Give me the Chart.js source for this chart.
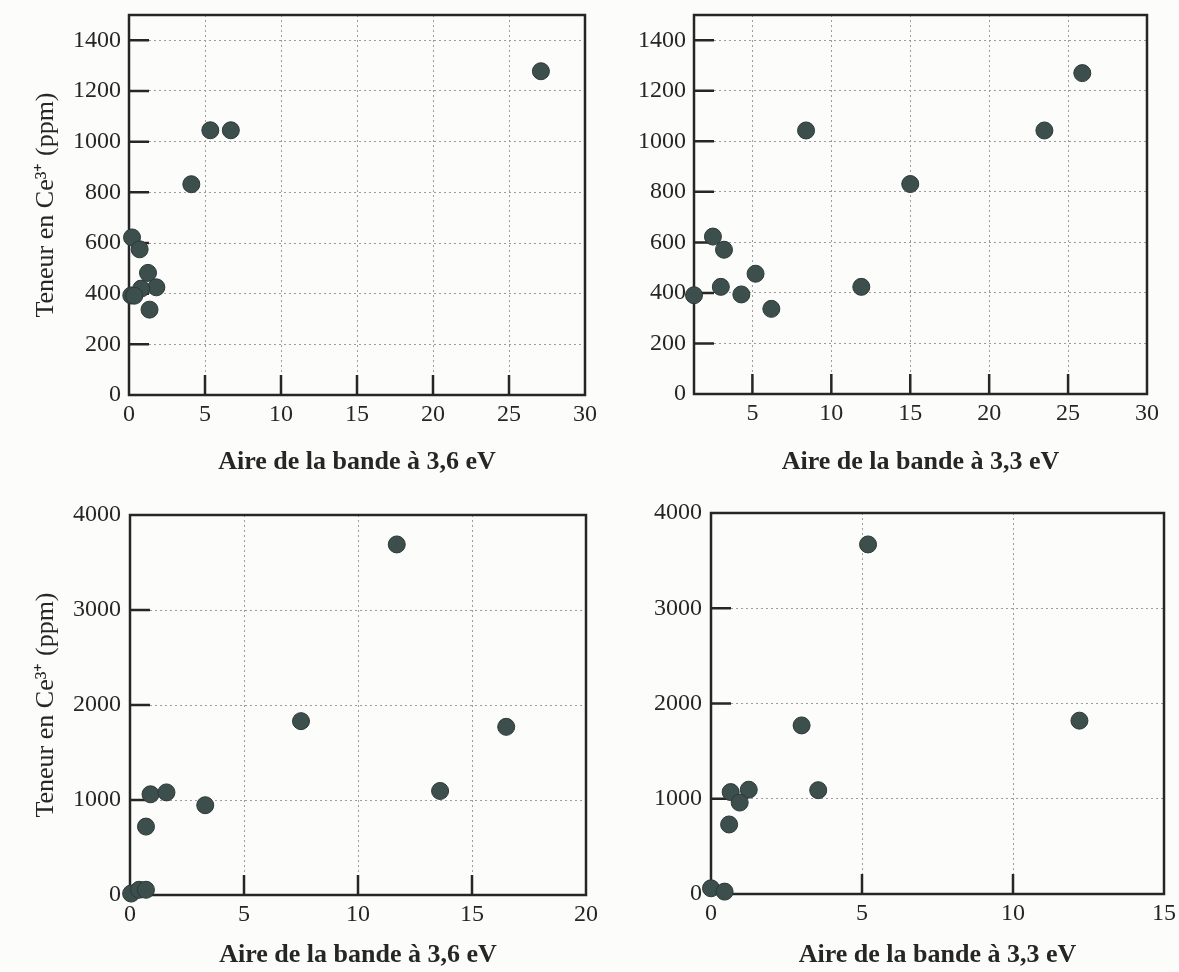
<!DOCTYPE html>
<html lang="fr">
<head>
<meta charset="utf-8">
<title>Teneur en Ce3+ / aire des bandes</title>
<script src="https://cdn.jsdelivr.net/npm/chart.js@4.4.1/dist/chart.umd.min.js"></script>
<style>
    html, body { margin: 0; padding: 0; background: #fcfcfb; }
    #wrap { position: relative; width: 1179px; height: 972px; }
    #wrap canvas { position: absolute; left: 0; top: 0; }
</style>
</head>
<body>
<div id="wrap">
    <canvas id="c1" width="1179" height="972"></canvas>
    <canvas id="c2" width="1179" height="972"></canvas>
    <canvas id="c3" width="1179" height="972"></canvas>
    <canvas id="c4" width="1179" height="972"></canvas>
</div>
<script>
// --- données ---
// haut gauche : aire de la bande à 3,6 eV / teneur en Ce3+ (ppm)
const p1X = [27.1, 5.35, 6.7, 4.1, 0.2, 0.7, 1.25, 1.8, 0.15, 0.8, 1.35, 0.35];
const p1Y = [1278, 1045, 1045, 832, 622, 575, 482, 425, 393, 420, 337, 392];
// haut droite : aire de la bande à 3,3 eV
const p2X = [25.9, 23.5, 8.4, 15.0, 2.5, 3.2, 5.2, 3.0, 1.3, 4.3, 6.2, 11.9];
const p2Y = [1270, 1043, 1043, 831, 623, 571, 476, 424, 391, 394, 337, 424];
// bas gauche : aire de la bande à 3,6 eV
const p3X = [11.7, 7.5, 16.5, 13.6, 3.3, 0.9, 1.6, 0.7, 0.05, 0.4, 0.7];
const p3Y = [3690, 1830, 1770, 1095, 945, 1060, 1080, 720, 15, 55, 55];
// bas droite : aire de la bande à 3,3 eV
const p4X = [5.2, 12.2, 3.0, 3.55, 0.65, 1.25, 0.95, 0.6, 0.0, 0.45];
const p4Y = [3670, 1820, 1770, 1090, 1070, 1095, 960, 730, 60, 25];

// graduations
const p1XTicks = [0, 5, 10, 15, 20, 25, 30];
const p2XTicks = [5, 10, 15, 20, 25, 30];
const p3XTicks = [0, 5, 10, 15, 20];
const p4XTicks = [0, 5, 10, 15];
const topYTicks = [0, 200, 400, 600, 800, 1000, 1200, 1400];
const bottomYTicks = [0, 1000, 2000, 3000, 4000];

const xTitle36 = 'Aire de la bande à 3,6 eV';
const xTitle33 = 'Aire de la bande à 3,3 eV';
const yTitle = 'Teneur en Ce³⁺ (ppm)';

const W = 1179, H = 972;
const INK = '#262626';
const GRID = '#9c9c9c';
const DOT_FILL = '#3d4f4c';
const DOT_EDGE = '#2b3836';
const TICK_LEN = 20;
const SERIF = "'Liberation Serif', 'Times New Roman', serif";

// cadre + graduations vers l'intérieur
const cadrePlugin = {
    id: 'cadre',
    beforeDatasetsDraw(chart) {
        const { ctx, chartArea: a, scales: { x, y } } = chart;
        ctx.save();
        ctx.strokeStyle = INK;
        ctx.lineWidth = 2.5;
        ctx.beginPath();
        x.ticks.forEach(t => {
            const px = x.getPixelForValue(t.value);
            if (px <= a.left + 2 || px >= a.right - 2) return;
            ctx.moveTo(px, a.bottom);
            ctx.lineTo(px, a.bottom - TICK_LEN);
        });
        y.ticks.forEach(t => {
            const py = y.getPixelForValue(t.value);
            if (py <= a.top + 2 || py >= a.bottom - 2) return;
            ctx.moveTo(a.left, py);
            ctx.lineTo(a.left + TICK_LEN, py);
        });
        ctx.stroke();
        ctx.strokeRect(a.left, a.top, a.right - a.left, a.bottom - a.top);
        ctx.restore();
    }
};

// pas de marge ajoutée pour les étiquettes : la zone de tracé reste où on la place
function noLabelPadding(s) {
    s.paddingTop = 0;
    s.paddingBottom = 0;
    s.paddingLeft = 0;
    s.paddingRight = 0;
}

function buildPanel(id, cfg) {
    const area = cfg.area;
    const points = cfg.xs.map((x, i) => ({ x: x, y: cfg.ys[i] }));

    return new Chart(document.getElementById(id), {
        type: 'scatter',
        data: {
            datasets: [{
                data: points,
                backgroundColor: DOT_FILL,
                borderColor: DOT_EDGE,
                borderWidth: 1,
                pointRadius: 8.5,
                clip: false
            }]
        },
        options: {
            responsive: false,
            animation: false,
            events: [],
            layout: {
                padding: {
                    left: area.left - cfg.yW,
                    top: area.top,
                    right: W - area.right,
                    bottom: H - area.bottom - cfg.xH
                }
            },
            plugins: {
                legend: { display: false },
                tooltip: { enabled: false }
            },
            scales: {
                x: {
                    type: 'linear',
                    min: cfg.xMin,
                    max: cfg.xMax,
                    afterBuildTicks: s => { s.ticks = cfg.xTicks.map(v => ({ value: v })); },
                    afterFit: s => { s.height = cfg.xH; noLabelPadding(s); },
                    grid: { color: GRID, lineWidth: 1, drawTicks: false },
                    border: { display: false, dash: [2, 3] },
                    ticks: {
                        color: INK,
                        padding: 5,
                        maxRotation: 0,
                        autoSkip: false,
                        callback: v => String(v),
                        font: { family: SERIF, size: 24 }
                    },
                    title: {
                        display: true,
                        text: cfg.xTitle,
                        color: INK,
                        padding: { top: 0, bottom: cfg.xTitlePad },
                        font: { family: SERIF, size: 26, weight: 'bold' }
                    }
                },
                y: {
                    type: 'linear',
                    min: cfg.yMin,
                    max: cfg.yMax,
                    afterBuildTicks: s => { s.ticks = cfg.yTicks.map(v => ({ value: v })); },
                    afterFit: s => { s.width = cfg.yW; noLabelPadding(s); },
                    grid: { color: GRID, lineWidth: 1, drawTicks: false },
                    border: { display: false, dash: [2, 3] },
                    ticks: {
                        color: INK,
                        padding: cfg.yPad,
                        autoSkip: false,
                        callback: v => String(v),
                        font: { family: SERIF, size: 24 }
                    },
                    title: {
                        display: !!cfg.yTitle,
                        text: cfg.yTitle || '',
                        color: INK,
                        padding: { top: 31, bottom: 0 },
                        font: { family: SERIF, size: 26 }
                    }
                }
            }
        },
        plugins: [cadrePlugin]
    });
}

buildPanel('c1', {
    xs: p1X, ys: p1Y, xTicks: p1XTicks, yTicks: topYTicks,
    xMin: 0, xMax: 30, yMin: 0, yMax: 1500,
    area: { left: 129, right: 585, top: 15, bottom: 395 },
    yW: 129, xH: 85, yPad: 8, xTitlePad: 2,
    xTitle: xTitle36, yTitle: yTitle
});

buildPanel('c2', {
    xs: p2X, ys: p2Y, xTicks: p2XTicks, yTicks: topYTicks,
    xMin: 1.3, xMax: 30, yMin: 0, yMax: 1500,
    area: { left: 694, right: 1147, top: 15, bottom: 394 },
    yW: 110, xH: 86, yPad: 8, xTitlePad: 2,
    xTitle: xTitle33
});

buildPanel('c3', {
    xs: p3X, ys: p3Y, xTicks: p3XTicks, yTicks: bottomYTicks,
    xMin: 0, xMax: 20, yMin: 0, yMax: 4000,
    area: { left: 130, right: 586, top: 515, bottom: 895 },
    yW: 130, xH: 77, yPad: 9, xTitlePad: 1,
    xTitle: xTitle36, yTitle: yTitle
});

buildPanel('c4', {
    xs: p4X, ys: p4Y, xTicks: p4XTicks, yTicks: bottomYTicks,
    xMin: 0, xMax: 15, yMin: 0, yMax: 4000,
    area: { left: 711, right: 1164, top: 513, bottom: 894 },
    yW: 120, xH: 78, yPad: 9, xTitlePad: 1,
    xTitle: xTitle33
});
</script>
</body>
</html>
